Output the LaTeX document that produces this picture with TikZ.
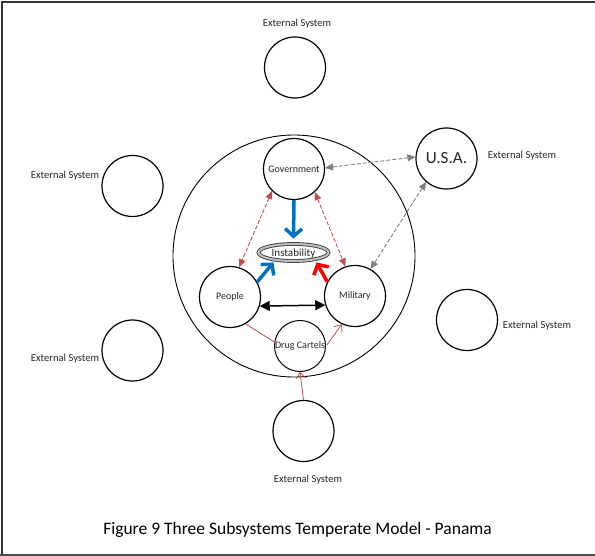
\documentclass[tikz,border=0pt]{standalone}
\usepackage{fontspec}
\setmainfont{Carlito}
\usetikzlibrary{arrows.meta,shapes.geometric}
\definecolor{cBlue}{RGB}{0,112,192}
\definecolor{cRed}{RGB}{255,0,0}
\definecolor{cRose}{RGB}{192,80,77}
\definecolor{cGray}{RGB}{128,128,128}
\definecolor{cText}{RGB}{38,38,38}
\begin{document}
\begin{tikzpicture}[x=1pt,y=-1pt,
  sys/.style={circle,draw,line width=1.2pt,fill=white,minimum size=61pt,inner sep=0pt,
    font=\fontsize{10}{12}\selectfont,text=cText},
  lbl/.style={font=\fontsize{10.6}{12}\selectfont,text=cText,inner sep=0pt},
  force/.style={line width=3.5pt,-{Straight Barb[length=7.5pt,width=17pt]}},
  tie/.style={dash pattern=on 4pt off 2pt,line width=0.9pt,
    {Triangle[length=8pt,width=7pt]}-{Triangle[length=8pt,width=7pt]}},
  feed/.style={cRose,line width=0.8pt},
  feedtip/.style={feed,-{Straight Barb[length=6pt,width=10pt]}}]
\useasboundingbox (0,0) rectangle (595,556);

% frame
\draw[line width=2pt,black!80] (2,556) -- (2,2) -- (595,2);
\draw[line width=2pt,black!70] (0,555) -- (595,555);

% the country as a whole
\node[circle,draw,line width=0.9pt,minimum size=242pt,inner sep=0pt] (country) at (294,256) {};

% external systems
\node[sys] (extTop) at (295,67.5) {};
\node[lbl] (extTopL) at (297,24) {External System};
\node[sys] (extLU) at (132.5,186) {};
\node[lbl] (extLUL) at (65,176) {External System};
\node[sys] (extLL) at (132.5,350.5) {};
\node[lbl] (extLLL) at (65,359) {External System};
\node[sys] (extR) at (467,320) {};
\node[lbl] (extRL) at (537,326) {External System};
\node[sys] (extB) at (303.5,431) {};
\node[lbl] (extBL) at (308,480) {External System};
\node[sys,font=\fontsize{17}{20}\selectfont] (usa) at (446.5,158.5) {U.S.A.};
\node[lbl] (usaL) at (522,156) {External System};

% internal subsystems
\node[sys] (gov) at (294,169) {Government};
\node[sys] (people) at (230,297) {People};
\node[sys] (mil) at (355,296) {Military};
\node[sys,minimum size=51pt,line width=1pt] (drug) at (300,346) {Drug Cartels};

% instability
\node[ellipse,draw=black!75,line width=0.9pt,double=black!25,double distance=2pt,
      minimum width=70pt,minimum height=17pt,inner sep=0pt] (inst) at (293.5,252.5) {};
\node[font=\fontsize{11}{13}\selectfont,text=cText,inner sep=0pt] (instL) at (293.5,253.5) {Instability};

% pressure on instability
\coordinate (instGov) at ([yshift=5pt]inst.north);
\coordinate (instPeo) at ([xshift=-20pt,yshift=-1pt]inst.south);
\coordinate (instMil) at ([xshift=23pt,yshift=-1pt]inst.south);
\draw[force,cBlue] (gov.south) -- (instGov);
\draw[force,cBlue] (people.29) -- (instPeo);
\draw[force,cRed] (mil.153) -- (instMil);

% mutual relations
\draw[tie,cRose] (gov.-135) -- (people.73);
\draw[tie,cRose] (gov.-48) -- (mil.108);
\draw[tie,cGray] (gov.2) -- (usa.177);
\draw[tie,cGray] (mil.60) -- (usa.-131);
\draw[line width=1.5pt,{Triangle[length=10pt,width=10pt]}-{Triangle[length=10pt,width=10pt]}]
  (people.-17) -- (mil.-163);

% drug cartel links
\coordinate (drugIn) at ([xshift=2pt,yshift=3pt]drug.west);
\coordinate (drugOut) at ([xshift=1pt,yshift=1pt]drug.east);
\draw[feed] (people.-60) -- (drugIn);
\draw[feedtip] (drugOut) -- (mil.-115);
\draw[feedtip] (extB.north) -- (drug.south);

% caption
\node[font=\fontsize{17.5}{21}\selectfont,inner sep=0pt] (caption) at (297.5,530)
  {Figure 9 Three Subsystems Temperate Model - Panama};
\end{tikzpicture}
\end{document}
